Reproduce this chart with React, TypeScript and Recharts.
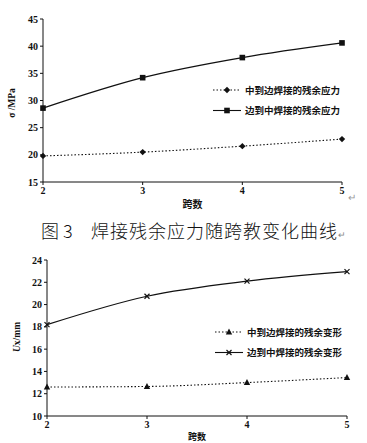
import { LineChart, Line, XAxis, YAxis } from 'recharts';

const spans = [2, 3, 4, 5];
const stressMidToEdge = [19.8, 20.5, 21.6, 22.9];
const stressEdgeToMid = [28.6, 34.2, 37.9, 40.6];
const stressTicks = [15, 20, 25, 30, 35, 40, 45];

const deformMidToEdge = [12.6, 12.65, 13.0, 13.45];
const deformEdgeToMid = [18.2, 20.75, 22.1, 22.95];
const deformTicks = [10, 12, 14, 16, 18, 20, 22, 24];

const stressData = spans.map((s, i) => ({ span: s, a: stressMidToEdge[i], b: stressEdgeToMid[i] }));
const deformData = spans.map((s, i) => ({ span: s, a: deformMidToEdge[i], b: deformEdgeToMid[i] }));

const cjk = '"Noto Sans CJK SC", "Liberation Sans", sans-serif';
const tickStyle = { fontSize: 10, fontWeight: 700, fill: '#111', fontFamily: '"Liberation Serif", serif' };

type Shape = 'diamond' | 'square' | 'triangle' | 'cross';

function Marker({ cx, cy, shape }: { cx: number; cy: number; shape: Shape }) {
  if (shape === 'diamond') return <path d={`M${cx},${cy - 3.2}L${cx + 3.2},${cy}L${cx},${cy + 3.2}L${cx - 3.2},${cy}Z`} fill="#111" />;
  if (shape === 'square') return <rect x={cx - 2.8} y={cy - 2.8} width={5.6} height={5.6} fill="#111" />;
  if (shape === 'triangle') return <path d={`M${cx},${cy - 3.5}L${cx + 3.2},${cy + 2.5}L${cx - 3.2},${cy + 2.5}Z`} fill="#111" />;
  return <path d={`M${cx - 2.5},${cy - 2.5}L${cx + 2.5},${cy + 2.5}M${cx + 2.5},${cy - 2.5}L${cx - 2.5},${cy + 2.5}`} stroke="#111" strokeWidth={1.2} />;
}

const dotFor = (shape: Shape) => (p: any) => <Marker key={p.index} cx={p.cx} cy={p.cy} shape={shape} />;

function LegendBox({ rows, left, top }: { rows: { label: string; dashed: boolean; shape: Shape }[]; left: number; top: number }) {
  return (
    <svg width={140} height={42} style={{ position: 'absolute', left, top }}>
      {rows.map((r, i) => {
        const y = 6 + i * 20.5;
        return (
          <g key={r.label}>
            <line x1={0} x2={28} y1={y} y2={y} stroke="#111" strokeWidth={1.1} strokeDasharray={r.dashed ? '1.5 2' : undefined} />
            <Marker cx={14} cy={y} shape={r.shape} />
            <text x={32} y={y + 3.5} fontSize={9.5} fontWeight={700} fontFamily={cjk} fill="#111">{r.label}</text>
          </g>
        );
      })}
    </svg>
  );
}

const yLabel = (text: React.ReactNode, x: number, y: number) => () => (
  <text x={x} y={y} transform={`rotate(-90 ${x} ${y})`} textAnchor="middle" dominantBaseline="central" fontSize={9.5} fontWeight={700} fill="#111" fontFamily='"Liberation Serif", serif'>
    {text}
  </text>
);

export default function App() {
  return (
    <div style={{ position: 'absolute', left: 0, top: 0, width: 367, height: 443, background: '#fff', overflow: 'hidden' }}>
      <div style={{ position: 'absolute', left: 0, top: 0 }}>
        <LineChart width={367} height={210} data={stressData} margin={{ top: 19, right: 25, left: 0, bottom: 0 }}>
          <XAxis dataKey="span" type="number" domain={[2, 5]} ticks={spans} interval={0} height={28} stroke="#111" tickSize={3} tick={tickStyle}
            label={{ value: '跨数', position: 'insideBottom', offset: 2, style: { fontSize: 10, fontWeight: 700, fill: '#111', fontFamily: cjk } }} />
          <YAxis type="number" domain={[15, 45]} ticks={stressTicks} interval={0} width={43} stroke="#111" tickSize={3} tick={tickStyle}
            label={{ content: yLabel('σ /MPa', 12, 103) }} />
          <Line dataKey="a" type="monotone" stroke="#111" strokeWidth={1.1} strokeDasharray="1.5 2" dot={dotFor('diamond')} isAnimationActive={false} />
          <Line dataKey="b" type="monotone" stroke="#111" strokeWidth={1.2} dot={dotFor('square')} isAnimationActive={false} />
        </LineChart>
      </div>
      <LegendBox left={213} top={84} rows={[{ label: '中到边焊接的残余应力', dashed: true, shape: 'diamond' }, { label: '边到中焊接的残余应力', dashed: false, shape: 'square' }]} />
      <div style={{ position: 'absolute', left: 348, top: 192, fontSize: 10, color: '#999' }}>↵</div>

      <div style={{ position: 'absolute', left: 41, top: 219, fontSize: 18, fontFamily: cjk, fontWeight: 300, color: '#111', whiteSpace: 'nowrap', lineHeight: '22px' }}>
        图 3
      </div>
      <div style={{ position: 'absolute', left: 91, top: 219, fontSize: 18, fontFamily: cjk, fontWeight: 300, color: '#111', whiteSpace: 'nowrap', lineHeight: '22px', letterSpacing: 1 }}>
        焊接残余应力随跨教变化曲线<span style={{ fontSize: 9, color: '#888', letterSpacing: 0 }}>↵</span>
      </div>

      <div style={{ position: 'absolute', left: 0, top: 240 }}>
        <LineChart width={367} height={203} data={deformData} margin={{ top: 20, right: 20, left: 0, bottom: 0 }}>
          <XAxis dataKey="span" type="number" domain={[2, 5]} ticks={spans} interval={0} height={27} stroke="#111" tickSize={3} tick={tickStyle}
            label={{ value: '跨数', position: 'insideBottom', offset: 3, style: { fontSize: 9, fontWeight: 700, fill: '#111', fontFamily: cjk } }} />
          <YAxis type="number" domain={[10, 24]} ticks={deformTicks} interval={0} width={47} stroke="#111" tickSize={3} tick={tickStyle}
            label={{ content: yLabel(<><tspan fontStyle="italic">U</tspan>x/mm</>, 17, 97) }} />
          <Line dataKey="a" type="monotone" stroke="#111" strokeWidth={1.1} strokeDasharray="1.5 2" dot={dotFor('triangle')} isAnimationActive={false} />
          <Line dataKey="b" type="monotone" stroke="#111" strokeWidth={1.2} dot={dotFor('cross')} isAnimationActive={false} />
        </LineChart>
      </div>
      <LegendBox left={215} top={326} rows={[{ label: '中到边焊接的残余变形', dashed: true, shape: 'triangle' }, { label: '边到中焊接的残余变形', dashed: false, shape: 'cross' }]} />
    </div>
  );
}
